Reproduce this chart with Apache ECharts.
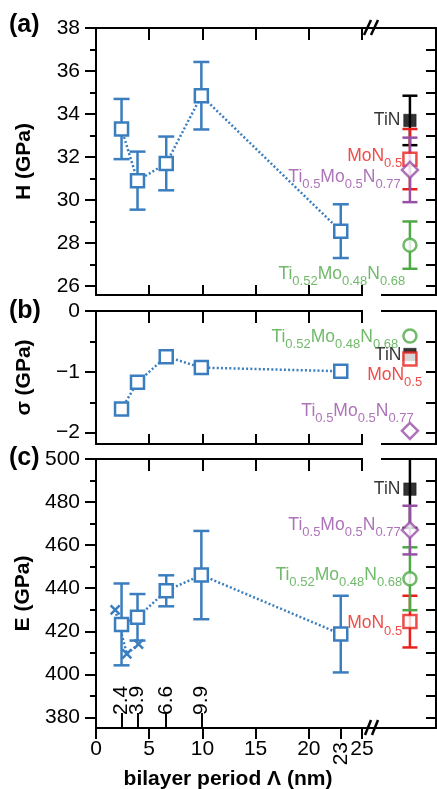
<!DOCTYPE html>
<html><head><meta charset="utf-8">
<script src="https://cdn.jsdelivr.net/npm/echarts@6/dist/echarts.min.js"></script>
<style>html,body{margin:0;padding:0;background:#fff}#c{width:437px;height:789px}</style>
</head><body><div id="c"></div>
<script>
// ---------- data ----------
const periods = [2.4, 3.9, 6.6, 9.9, 23];
const hardness = [33.3, 30.9, 31.7, 34.85, 28.55];
const hardnessErr = [1.4, 1.35, 1.25, 1.57, 1.25];
const stress = [-1.61, -1.17, -0.75, -0.93, -0.99];
const modulus = [423.2, 426.5, 438.8, 446.1, 418.7];
const modulusErr = [19, 10.8, 7.2, 20.5, 17.8];
const crossPeriods = [1.8, 2.9, 4.0];
const crossModulus = [430, 409.5, 414];
const refX = 29.5;
// order: TiN, MoN0.5, Ti0.52Mo0.48N0.68, Ti0.5Mo0.5N0.77
const refLabelText = ['{n|TiN}', '{n|MoN}{s|0.5}', '{n|Ti}{s|0.52}{n|Mo}{s|0.48}{n|N}{s|0.68}', '{n|Ti}{s|0.5}{n|Mo}{s|0.5}{n|N}{s|0.77}'];
const refH = [33.7, 31.9, 27.9, 31.4];
const refHErr = [1.15, 1.4, 1.1, 1.5];
const refS = [-0.715, -0.79, -0.41, -1.97];
const refE = [486, 424.5, 444.4, 467];
const refEErr = [18, 12, 14.6, 11.3];
const xTickLabels = [0, 5, 10, 15, 20, 25];
const xTickMarks = [0, 5, 10, 15, 20, 23, 25];
const xSpecialLabel = [23];
const innerPeriodLabelsA = [2.4, 6.6];
const innerPeriodLabelsB = [3.9, 9.9];
const hTicks = [26, 28, 30, 32, 34, 36, 38];
const hMinor = [27, 29, 31, 33, 35, 37];
const hRight = [26, 27, 28, 29, 30, 31, 32, 33, 34, 35, 36, 37, 38];
const sTicks = [0, -1, -2];
const sMinor = [-0.5, -1.5];
const sRight = [0, -0.5, -1, -1.5, -2];
const eTicks = [380, 400, 420, 440, 460, 480, 500];
const eMinor = [390, 410, 430, 450, 470, 490];
const eRight = [380, 390, 400, 410, 420, 430, 440, 450, 460, 470, 480, 490, 500];

// ---------- style ----------
const FONT = '"Liberation Sans", Arial, Helvetica, sans-serif';
const BLUE = '#3a7ebf', RED = '#e8201c', GREEN = '#4ea846', PURPLE = '#9850a6', BLACK = '#000000';
const refColors = [BLACK, RED, GREEN, PURPLE];
const refSymbols = ['rect', 'rect', 'circle', 'diamond'];
const refSizes = [12.5, 13, 13, 16];
const XMAX = 31.95;
const grids = [
  {left: 96, top: 28, width: 340, height: 267},
  {left: 96, top: 311, width: 340, height: 133},
  {left: 96, top: 459, width: 340, height: 269}
];
const yRanges = [[25.58, 38], [-2.186, 0], [375.1, 500]];
const TICK = {color: '#000', width: 2};

function xAxisDef(g, pos, opts) {
  return Object.assign({
    type: 'value', gridIndex: g, position: pos, min: 0, max: XMAX,
    axisLine: {show: true, onZero: false, lineStyle: {color: '#000', width: 2}},
    axisTick: {show: false}, axisLabel: {show: false}, splitLine: {show: false}
  }, opts);
}
function yAxisDef(g, pos, opts) {
  return Object.assign({
    type: 'value', gridIndex: g, position: pos, min: yRanges[g][0], max: yRanges[g][1],
    axisLine: {show: true, onZero: false, lineStyle: {color: '#000', width: 2}},
    axisTick: {show: false}, axisLabel: {show: false}, splitLine: {show: false}
  }, opts);
}
const minusFmt = v => (v < 0 ? '\u2212' + Math.abs(v) : String(v));
const labelStyle = {color: '#000', fontFamily: FONT, fontSize: 21, hideOverlap: false};

const xAxes = [];
const yAxes = [];
for (let g = 0; g < 2; g++) {
  xAxes.push(xAxisDef(g, 'bottom', {axisTick: {show: true, inside: true, length: 10, customValues: xTickLabels.slice(1), lineStyle: TICK}}));
  xAxes.push(xAxisDef(g, 'top', {axisTick: {show: true, inside: true, length: 12, customValues: xTickLabels.slice(1), lineStyle: TICK}}));
}
xAxes.push(xAxisDef(2, 'bottom', {
  axisTick: {show: true, inside: false, length: 11, customValues: xTickMarks, lineStyle: TICK},
  axisLabel: Object.assign({show: true, margin: 11, customValues: xTickLabels}, labelStyle)
}));
xAxes.push(xAxisDef(2, 'top', {axisTick: {show: true, inside: true, length: 12, customValues: xTickLabels.slice(1), lineStyle: TICK}}));
xAxes.push(xAxisDef(2, 'bottom', {
  axisLine: {show: false, onZero: false},
  axisLabel: Object.assign({show: true, margin: 14, rotate: 90, customValues: xSpecialLabel}, labelStyle)
}));
[innerPeriodLabelsA, innerPeriodLabelsB].forEach(vals => {
  xAxes.push(xAxisDef(2, 'bottom', {
    axisLine: {show: false, onZero: false},
    axisTick: {show: true, inside: true, length: 15, customValues: vals, lineStyle: TICK},
    axisLabel: Object.assign({show: true, inside: true, margin: 13, rotate: 90, customValues: vals}, labelStyle)
  }));
});

const yMain = [hTicks, sTicks, eTicks];
const yMin = [hMinor, sMinor, eMinor];
const yRight = [hRight, sRight, eRight];
const yNames = ['H (GPa)', '\u03c3 (GPa)', 'E (GPa)'];
for (let g = 0; g < 3; g++) {
  yAxes.push(yAxisDef(g, 'left', {
    name: yNames[g], nameLocation: 'middle', nameGap: 61, nameRotate: 90,
    nameTextStyle: {fontFamily: FONT, fontSize: 21, fontWeight: 'bold', color: '#000'},
    axisTick: {show: true, inside: false, length: 11, customValues: yMain[g], lineStyle: TICK},
    axisLabel: Object.assign({show: true, margin: 16, customValues: yMain[g], formatter: minusFmt}, labelStyle)
  }));
  yAxes.push(yAxisDef(g, 'left', {
    axisLine: {show: false, onZero: false},
    axisTick: {show: true, inside: false, length: 6, customValues: yMin[g], lineStyle: TICK}
  }));
  yAxes.push(yAxisDef(g, 'right', {
    axisTick: {show: true, inside: true, length: 10, customValues: yRight[g], lineStyle: TICK}
  }));
}

function errRender(colorOf, half) {
  return function (params, api) {
    const x = api.value(0), y = api.value(1), e = api.value(2);
    const c = colorOf(api.value(3));
    const t = api.coord([x, y + e]), b = api.coord([x, y - e]);
    const st = {stroke: c, lineWidth: 2.5, fill: null};
    return {type: 'group', children: [
      {type: 'line', shape: {x1: t[0], y1: t[1], x2: b[0], y2: b[1]}, style: st},
      {type: 'line', shape: {x1: t[0] - half, y1: t[1], x2: t[0] + half, y2: t[1]}, style: st},
      {type: 'line', shape: {x1: b[0] - half, y1: b[1], x2: b[0] + half, y2: b[1]}, style: st}
    ]};
  };
}
function multiLine(xi, yi, vals) {
  return {type: 'line', xAxisIndex: xi, yAxisIndex: yi, data: periods.map((p, i) => [p, vals[i]]),
    symbol: 'none', z: 2, lineStyle: {color: BLUE, width: 2.5, type: [2, 2.2]}, silent: true};
}
function multiScatter(xi, yi, vals) {
  return {type: 'scatter', xAxisIndex: xi, yAxisIndex: yi, data: periods.map((p, i) => [p, vals[i]]),
    symbol: 'rect', symbolSize: 13, z: 4, silent: true,
    itemStyle: {color: '#fff', borderColor: BLUE, borderWidth: 2.5, opacity: 1}};
}
function multiErr(xi, yi, vals, errs) {
  return {type: 'custom', xAxisIndex: xi, yAxisIndex: yi, clip: true, silent: true, z: 3,
    data: periods.map((p, i) => [p, vals[i], errs[i], 0]), renderItem: errRender(() => BLUE, 8)};
}
function refErr(xi, yi, vals, errs) {
  return {type: 'custom', xAxisIndex: xi, yAxisIndex: yi, clip: true, silent: true, z: 3,
    data: vals.map((v, i) => [refX, v, errs[i], i]), renderItem: errRender(i => refColors[i], 7.5)};
}
function richFor(c) {
  return {
    n: {fontFamily: FONT, fontSize: 17.5, color: c, lineHeight: 20, verticalAlign: 'top'},
    s: {fontFamily: FONT, fontSize: 13, color: c, lineHeight: 14, verticalAlign: 'top', padding: [10, 0, 0, 0]}
  };
}
function refScatter(xi, yi, vals, lab) {
  return {type: 'scatter', xAxisIndex: xi, yAxisIndex: yi, z: 5, silent: true,
    data: vals.map((v, i) => ({
      value: [refX, v], symbol: refSymbols[i], symbolSize: refSizes[i],
      itemStyle: i === 0 ? {color: BLACK, borderColor: BLACK, borderWidth: 0.5}
                         : {color: '#fff', borderColor: refColors[i], borderWidth: 2.5},
      label: {show: true, position: 'left', distance: lab[i][0], offset: [lab[i][1], lab[i][2]],
        formatter: refLabelText[i], rich: richFor(refColors[i])}
    }))};
}
// label layout per panel: [distance, dx, dy]
const labA = [[3, 0, 1], [0, 0, -2], [0, 3, 30], [0, 0, 8]];
const labB = [[2, 0, 2], [0, 20, 17], [4, 0, 2], [0, 13, -19]];
const labC = [[3, 0, 1], [0, 0, 3], [0, 0, -3], [0, 0, -4]];

const series = [
  refErr(0, 0, refH, refHErr),
  multiLine(0, 0, hardness), multiErr(0, 0, hardness, hardnessErr), multiScatter(0, 0, hardness),
  refScatter(0, 0, refH, labA),
  multiLine(2, 3, stress), multiScatter(2, 3, stress),
  refScatter(2, 3, refS, labB),
  refErr(4, 6, refE, refEErr),
  multiLine(4, 6, modulus), multiErr(4, 6, modulus, modulusErr), multiScatter(4, 6, modulus),
  {type: 'line', xAxisIndex: 4, yAxisIndex: 6, data: crossPeriods.map((p, i) => [p, crossModulus[i]]),
    symbol: 'path://M0 0L10 10M0 10L10 0', symbolSize: 9, z: 4, silent: true,
    itemStyle: {color: BLUE, borderColor: BLUE, borderWidth: 2.5},
    lineStyle: {color: BLUE, width: 2.5, type: [2, 2.2]}},
  refScatter(4, 6, refE, labC)
];

const gapRects = [295, 311, 444, 459].map(y => ({type: 'rect', shape: {x: 363, y: y - 2.5, width: 18, height: 5}, style: {fill: '#fff'}, z: 100}));
const slash = (x1, y1, x2, y2) => ({type: 'line', shape: {x1, y1, x2, y2}, style: {stroke: '#000', lineWidth: 2.5}, z: 101});
const txt = (text, x, y, size, align) => ({type: 'text', x, y, z: 101,
  style: {text, font: 'bold ' + size + 'px ' + FONT, fill: '#000', align: align, verticalAlign: 'middle', textAlign: align, textVerticalAlign: 'middle'}});

const chart = echarts.init(document.getElementById('c'), null, {renderer: 'canvas'});
chart.setOption({
  animation: false,
  backgroundColor: '#fff',
  grid: grids.map(g => Object.assign({containLabel: false, outerBoundsMode: 'none'}, g)),
  xAxis: xAxes,
  yAxis: yAxes,
  series: series,
  graphic: [].concat(gapRects, [
    slash(364, 35, 371, 20), slash(371, 35, 378, 20),
    slash(365, 735, 371, 720), slash(372, 735, 378, 720),
    txt('(a)', 9, 25, 25, 'left'), txt('(b)', 9, 311, 25, 'left'), txt('(c)', 9, 458, 25, 'left'),
    txt('bilayer period \u039b (nm)', 228, 779, 21, 'center')
  ])
});
</script></body></html>
